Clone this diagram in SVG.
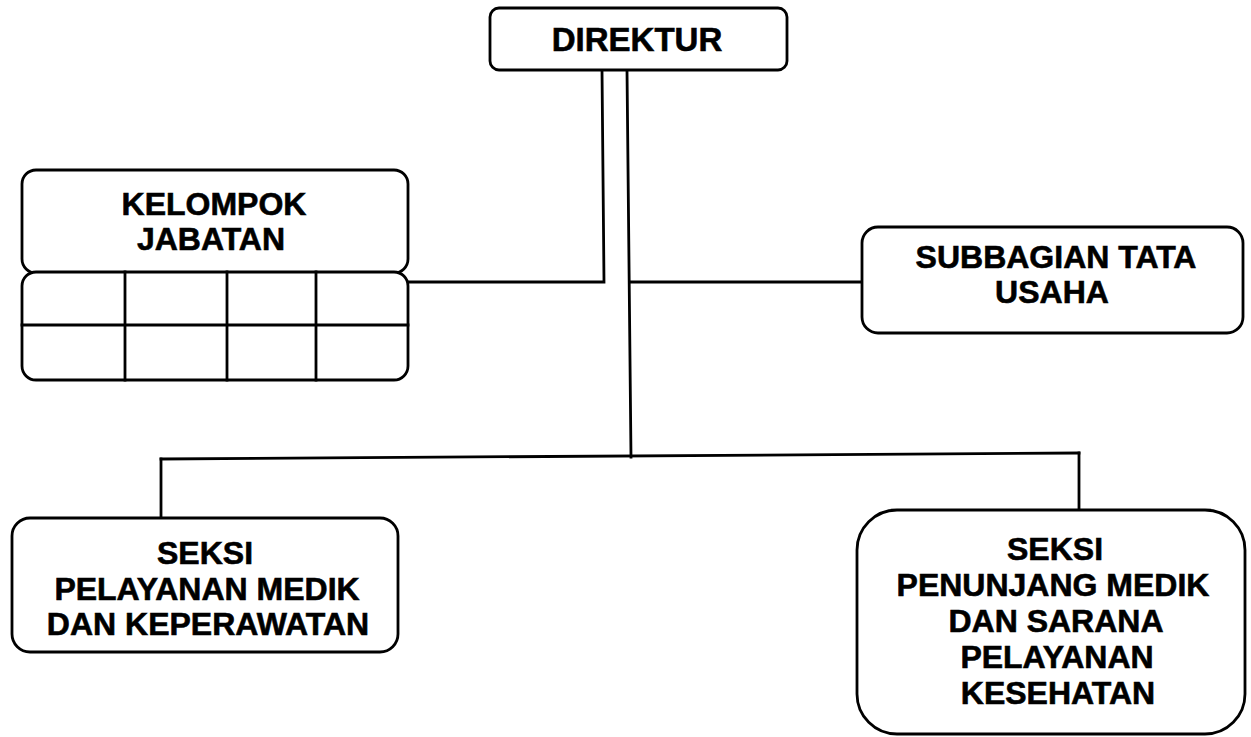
<svg xmlns="http://www.w3.org/2000/svg" width="1251" height="737" viewBox="0 0 1251 737">
<style>
.box{fill:#fff;stroke:#000;stroke-width:2.8}
.ln{fill:none;stroke:#000;stroke-width:2.8;stroke-linecap:square}
.t{font-family:"Liberation Sans",Arial,sans-serif;font-weight:bold;font-size:32px;fill:#000;stroke:#000;stroke-width:0.6;text-anchor:middle}
</style>
<rect width="1251" height="737" fill="#fff"/>
<g id="connectors">
<polyline class="ln" points="602,70 604,282 408,282"/>
<line class="ln" x1="627" y1="70" x2="631" y2="457"/>
<line class="ln" x1="631" y1="282" x2="862" y2="282"/>
<line class="ln" x1="161" y1="459" x2="1079" y2="453"/>
<line class="ln" x1="161" y1="459" x2="161" y2="518"/>
<line class="ln" x1="1079" y1="453" x2="1079" y2="510"/>
</g>
<g id="direktur">
<rect class="box" x="490" y="8" width="297" height="62" rx="9"/>
<text class="t" x="637" y="51" style="font-size:33px">DIREKTUR</text>
</g>
<g id="kelompok-jabatan">
<rect class="box" x="22" y="170" width="386" height="103" rx="14"/>
<rect class="box" x="22" y="272" width="386" height="108" rx="14"/>
<path class="ln" d="M125,272V380M227,272V380M316,272V380M22,325H408" stroke-linecap="butt"/>
<text class="t" x="214" y="215">KELOMPOK</text>
<text class="t" x="211" y="250">JABATAN</text>
</g>
<g id="subbagian">
<rect class="box" x="862" y="227" width="381" height="106" rx="16"/>
<text class="t" x="1056" y="268">SUBBAGIAN TATA</text>
<text class="t" x="1052" y="303">USAHA</text>
</g>
<g id="seksi-pelayanan">
<rect class="box" x="12" y="518" width="386" height="134" rx="18"/>
<text class="t" x="205" y="564">SEKSI</text>
<text class="t" x="207" y="600">PELAYANAN MEDIK</text>
<text class="t" x="208" y="635">DAN KEPERAWATAN</text>
</g>
<g id="seksi-penunjang">
<rect class="box" x="857" y="510" width="388" height="224" rx="40"/>
<text class="t" x="1055" y="560">SEKSI</text>
<text class="t" x="1053" y="596">PENUNJANG MEDIK</text>
<text class="t" x="1056" y="632">DAN SARANA</text>
<text class="t" x="1057" y="668">PELAYANAN</text>
<text class="t" x="1058" y="704">KESEHATAN</text>
</g>
</svg>
